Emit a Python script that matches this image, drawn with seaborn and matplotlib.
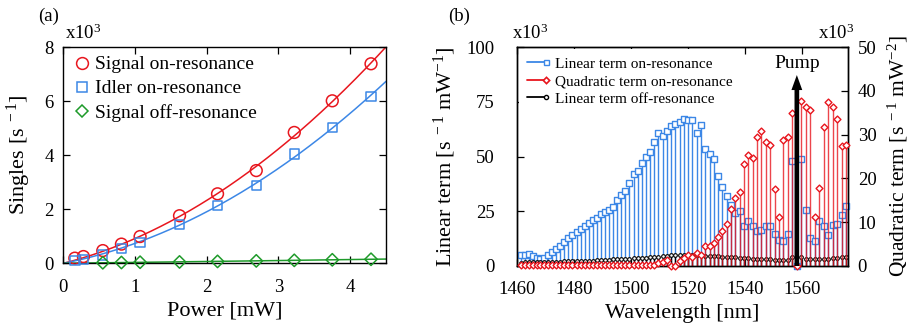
import numpy as np
import pandas as pd
import seaborn as sns
import matplotlib
matplotlib.use("Agg")
import matplotlib.pyplot as plt
from matplotlib.lines import Line2D
from matplotlib.legend_handler import HandlerLine2D

# ---------------- data: panel (a) ----------------
POWER_MW = [0.16, 0.28, 0.55, 0.81, 1.07, 1.62, 2.15, 2.69, 3.22, 3.75, 4.29]
SIGNAL_ON = [0.19, 0.25, 0.47, 0.71, 0.99, 1.76, 2.57, 3.43, 4.84, 6.01, 7.38]
IDLER_ON = [0.10, 0.15, 0.31, 0.55, 0.78, 1.44, 2.13, 2.87, 4.05, 5.02, 6.17]
POWER_OFF_MW = [0.55, 0.81, 1.07, 1.62, 2.15, 2.69, 3.22, 3.75, 4.29]
SIGNAL_OFF = [0.02, 0.03, 0.04, 0.05, 0.07, 0.09, 0.11, 0.13, 0.15]
LABELS_A = ["Signal on-resonance", "Idler on-resonance", "Signal off-resonance"]

# ---------------- data: panel (b) ----------------
WAVELENGTH_NM = [
    1461.3, 1462.7, 1464.1, 1465.5, 1466.9, 1468.2, 1469.6, 1471.0, 1472.4, 1473.8,
    1475.2, 1476.6, 1478.0, 1479.4, 1480.9, 1482.3, 1483.7, 1485.1, 1486.5, 1488.0,
    1489.4, 1490.8, 1492.2, 1493.7, 1495.1, 1496.5, 1498.0, 1499.4, 1500.9, 1502.3,
    1503.8, 1505.2, 1506.7, 1508.2, 1509.6, 1511.1, 1512.6, 1514.0, 1515.5, 1517.0,
    1518.5, 1520.0, 1521.5, 1523.0, 1524.5, 1526.0, 1527.5, 1529.0, 1530.5, 1532.0,
    1533.5, 1535.0, 1536.5, 1538.0, 1539.6, 1541.1, 1542.6, 1544.2, 1545.7, 1547.2,
    1548.8, 1550.3, 1551.9, 1553.4, 1555.0, 1556.5, 1558.1, 1559.7, 1561.2, 1562.8,
    1564.4, 1566.0, 1567.5, 1569.1, 1570.7, 1572.3, 1573.9, 1575.5]
LINEAR_ON = [
    5.0, 4.9, 5.3, 4.6, 3.5, 3.0, 3.5, 4.9, 6.2, 7.8,
    9.3, 11.0, 12.6, 14.2, 15.7, 17.0, 18.4, 19.8, 21.2, 21.8,
    23.6, 24.5, 25.6, 26.9, 30.1, 32.4, 34.4, 37.8, 41.9, 43.4,
    47.2, 49.6, 52.2, 56.5, 60.9, 59.4, 61.5, 63.9, 65.0, 65.8,
    67.3, 66.7, 66.7, 60.6, 64.4, 53.3, 51.1, 48.7, 41.1, 35.9,
    32.0, 27.9, 24.3, 25.3, 18.4, 20.5, 18.4, 16.0, 16.3, 18.4,
    18.4, 14.6, 11.9, 11.6, 14.6, 47.9, 0.0, 48.7, 25.6, 12.9,
    11.4, 20.4, 18.4, 14.0, 18.7, 19.3, 23.1, 27.5]
QUADRATIC_ON = [
    0.2, 0.2, 0.2, 0.2, 0.2, 0.2, 0.2, 0.2, 0.2, 0.2,
    0.2, 0.2, 0.2, 0.2, 0.2, 0.2, 0.2, 0.2, 0.2, 0.2,
    0.2, 0.2, 0.2, 0.2, 0.2, 0.2, 0.2, 0.2, 0.2, 0.2,
    0.2, 0.2, 0.2, 0.2, 0.6, 0.8, 1.4, 0.0, 0.0, 1.2,
    1.8, 2.4, 2.1, 2.9, 2.5, 4.6, 4.6, 5.3, 6.7, 8.1,
    9.7, 12.9, 15.6, 17.0, 23.3, 25.3, 24.7, 29.4, 30.8, 28.2,
    27.6, 17.5, 11.1, 28.8, 29.4, 34.9, 0.0, 37.7, 36.4, 35.6,
    11.1, 17.7, 31.7, 37.5, 36.4, 33.6, 27.5, 27.6]
LINEAR_OFF = [
    1.5, 1.6, 1.6, 1.7, 1.7, 1.8, 1.8, 1.9, 1.9, 2.0,
    2.0, 2.1, 2.1, 2.2, 2.3, 2.3, 2.4, 2.5, 2.5, 2.6,
    2.7, 2.8, 2.9, 3.0, 3.1, 3.2, 3.3, 3.4, 3.5, 3.6,
    3.7, 3.8, 3.9, 4.0, 4.2, 4.4, 4.6, 4.8, 4.9, 5.0,
    5.1, 5.1, 5.0, 5.0, 4.9, 4.7, 4.6, 4.5, 4.4, 4.3,
    4.1, 4.0, 3.9, 3.7, 3.6, 3.5, 3.4, 3.3, 3.2, 3.1,
    3.0, 2.9, 2.8, 2.7, 2.6, 4.3, 0.0, 4.0, 3.2, 3.1,
    3.1, 3.2, 3.3, 3.4, 3.5, 3.7, 3.9, 4.2]
LABELS_B = ["Linear term on-resonance", "Quadratic term on-resonance",
            "Linear term off-resonance"]
PUMP_NM = 1558.1
PUMP_ARROW_TOP = 43.6  # right-axis units

RED = "#e8161e"
BLUE = "#3c87e6"
GREEN = "#1e9a2a"

# ---------------- style ----------------
sns.set_theme(style="ticks")
plt.rcParams["font.family"] = ["Liberation Serif", "DejaVu Serif"]
plt.rcParams["mathtext.fontset"] = "custom"
plt.rcParams["mathtext.rm"] = "Liberation Serif"
plt.rcParams["mathtext.it"] = "Liberation Serif:italic"
plt.rcParams["mathtext.default"] = "regular"
plt.rcParams["axes.edgecolor"] = "black"
plt.rcParams["text.color"] = "black"
plt.rcParams["axes.labelcolor"] = "black"
plt.rcParams["xtick.color"] = "black"
plt.rcParams["ytick.color"] = "black"
plt.rcParams["axes.linewidth"] = 1.0

TICK_FS = 13.5
LABEL_FS = 16

fig = plt.figure(figsize=(9.14, 3.32), dpi=100)
axa = fig.add_axes([0.0693, 0.2069, 0.3531, 0.6515])
axb = fig.add_axes([0.5656, 0.1988, 0.3621, 0.6596])

# ---------------- panel (a) ----------------
def fit_curve(x, y, grid):
    x = np.asarray(x); y = np.asarray(y)
    A = np.column_stack([x, x ** 2])
    coef, *_ = np.linalg.lstsq(A, y, rcond=None)
    return coef[0] * grid + coef[1] * grid ** 2

grid = np.linspace(0, 4.5, 200)
for xs, ys, col in [(POWER_MW, SIGNAL_ON, RED), (POWER_MW, IDLER_ON, BLUE),
                    (POWER_OFF_MW, SIGNAL_OFF, GREEN)]:
    sns.lineplot(x=grid, y=fit_curve(xs, ys, grid), ax=axa, color=col, lw=1.1,
                 zorder=2)

sns.scatterplot(x=POWER_MW, y=SIGNAL_ON, ax=axa, marker="o", s=72,
                facecolor="none", edgecolor=RED, linewidth=1.1, zorder=3,
                clip_on=False)
sns.scatterplot(x=POWER_MW, y=IDLER_ON, ax=axa, marker="s", s=46,
                facecolor="none", edgecolor=BLUE, linewidth=1.1, zorder=3,
                clip_on=False)
sns.scatterplot(x=POWER_OFF_MW, y=SIGNAL_OFF, ax=axa, marker="D", s=40,
                facecolor="none", edgecolor=GREEN, linewidth=1.1, zorder=3,
                clip_on=False)

axa.set_xlim(0, 4.5)
axa.set_ylim(0, 8)
axa.set_xticks([0, 1, 2, 3, 4])
axa.set_yticks([0, 2, 4, 6, 8])
axa.tick_params(axis="both", direction="in", length=5, width=0.9,
                labelsize=TICK_FS, top=True, right=True)
axa.tick_params(axis="x", pad=11)
axa.tick_params(axis="y", pad=7)
axa.set_xlabel("Power [mW]", fontsize=LABEL_FS, labelpad=4)
axa.set_ylabel(r"Singles [s$^{\ -1}$]", fontsize=LABEL_FS, labelpad=8)
for sp in axa.spines.values():
    sp.set_visible(True)
axa.text(0.005, 1.02, r"x10$^3$", transform=axa.transAxes, ha="left",
         va="bottom", fontsize=TICK_FS)

handles_a = [
    Line2D([], [], ls="none", marker="o", ms=8.5, mfc="none", mec=RED, mew=1.1),
    Line2D([], [], ls="none", marker="s", ms=6.8, mfc="none", mec=BLUE, mew=1.1),
    Line2D([], [], ls="none", marker="D", ms=6.3, mfc="none", mec=GREEN, mew=1.1),
]
axa.legend(handles_a, LABELS_A, loc="upper left", bbox_to_anchor=(0, 1),
           borderaxespad=0.0, borderpad=0.45, frameon=False, fontsize=14,
           handlelength=1.0, handletextpad=0.2, labelspacing=0.33,
           numpoints=1)

# ---------------- panel (b) ----------------
ax2 = axb.twinx()

axb.vlines(WAVELENGTH_NM, 0, LINEAR_ON, colors=BLUE, lw=1.0, zorder=1)
sns.scatterplot(x=WAVELENGTH_NM, y=LINEAR_ON, ax=axb, marker="s", s=14,
                facecolor="white", edgecolor=BLUE, linewidth=1.0, zorder=3,
                clip_on=False)
axb.vlines(WAVELENGTH_NM, 0, LINEAR_OFF, colors="black", lw=1.0, zorder=2)
sns.scatterplot(x=WAVELENGTH_NM, y=LINEAR_OFF, ax=axb, marker="o", s=7,
                facecolor="white", edgecolor="black", linewidth=0.8, zorder=4,
                clip_on=False)

ax2.vlines(WAVELENGTH_NM, 0, QUADRATIC_ON, colors=RED, lw=1.0, alpha=0.8,
           zorder=1)
sns.scatterplot(x=WAVELENGTH_NM, y=QUADRATIC_ON, ax=ax2, marker="D", s=12,
                facecolor="white", edgecolor=RED, linewidth=1.0, zorder=3,
                clip_on=False)

ax2.annotate("", xy=(PUMP_NM, PUMP_ARROW_TOP), xytext=(PUMP_NM, 0),
             arrowprops=dict(arrowstyle="simple,head_length=0.9,head_width=0.65,tail_width=0.28",
                             mutation_scale=12, color="black", lw=0,
                             shrinkA=0, shrinkB=0), zorder=6)
ax2.text(PUMP_NM, 46.3, "Pump", ha="center", va="center", fontsize=14,
         zorder=6)

axb.set_xlim(1460, 1576)
axb.set_ylim(0, 100)
ax2.set_ylim(0, 50)
axb.set_xticks([1460, 1480, 1500, 1520, 1540, 1560])
axb.set_yticks([0, 25, 50, 75, 100])
ax2.set_yticks([0, 10, 20, 30, 40, 50])
axb.tick_params(axis="both", direction="in", length=5, width=0.9,
                labelsize=TICK_FS, top=True, right=False)
axb.tick_params(axis="x", pad=11)
axb.tick_params(axis="y", pad=16)
ax2.tick_params(axis="y", direction="in", length=5, width=0.9,
                labelsize=TICK_FS, pad=7)
axb.set_xlabel("Wavelength [nm]", fontsize=LABEL_FS, labelpad=4)
axb.set_ylabel(r"Linear term [s$^{\ -1}$ mW$^{-1}$]", fontsize=LABEL_FS,
               labelpad=6)
ax2.set_ylabel(r"Quadratic term [s$^{\ -1}$ mW$^{-2}$]", fontsize=15.5,
               labelpad=7, rotation=90)
for sp in axb.spines.values():
    sp.set_visible(True)
for sp in ax2.spines.values():
    sp.set_visible(True)
axb.text(-0.015, 1.02, r"x10$^3$", transform=axb.transAxes, ha="left",
         va="bottom", fontsize=TICK_FS)
axb.text(1.02, 1.02, r"x10$^3$", transform=axb.transAxes, ha="right",
         va="bottom", fontsize=TICK_FS)


class EndMarkerHandler(HandlerLine2D):
    def create_artists(self, legend, orig_handle, xdescent, ydescent, width,
                       height, fontsize, trans):
        y = (height - ydescent) / 2
        line = Line2D([-xdescent, -xdescent + width], [y, y])
        self.update_prop(line, orig_handle, legend)
        line.set_marker("None")
        mark = Line2D([-xdescent + width], [y])
        self.update_prop(mark, orig_handle, legend)
        mark.set_linestyle("None")
        line.set_transform(trans)
        mark.set_transform(trans)
        return [line, mark]


handles_b = [
    Line2D([], [], color=BLUE, lw=1.3, marker="s", ms=3.6, mfc="white",
           mec=BLUE, mew=1.0),
    Line2D([], [], color=RED, lw=1.3, marker="D", ms=3.2, mfc="white",
           mec=RED, mew=1.2),
    Line2D([], [], color="black", lw=1.3, marker="o", ms=3.0, mfc="white",
           mec="black", mew=1.0),
]
leg = ax2.legend(handles_b, LABELS_B, loc="upper left",
                 bbox_to_anchor=(0.006, 0.99),
                 borderaxespad=0.0, borderpad=0.5, frameon=True,
                 fontsize=11, handlelength=1.3, handletextpad=0.55,
                 labelspacing=0.25,
                 handler_map={Line2D: EndMarkerHandler()})
leg.get_frame().set_edgecolor("none")
leg.get_frame().set_facecolor("white")
leg.get_frame().set_alpha(1.0)
leg.get_frame().set_boxstyle("square", pad=0)

fig.text(0.0416, 0.952, "(a)", ha="left", va="center", fontsize=13.5)
fig.text(0.490, 0.952, "(b)", ha="left", va="center", fontsize=13.5)

fig.savefig("out.png", dpi=100)
